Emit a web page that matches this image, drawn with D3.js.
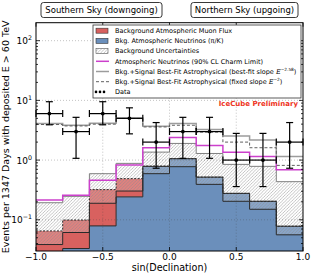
<!DOCTYPE html>
<html lang="en">
<head>
<meta charset="utf-8">
<title>sin(Declination) distribution</title>
<script src="https://cdn.jsdelivr.net/npm/d3@7"></script>
<style>
  body { margin: 0; background: #fff; }
  text { font-family: "DejaVu Sans", sans-serif; }
</style>
</head>
<body>
<div id="main"></div>
<script>
// bin edges in sin(declination)
var edges = [-1, -0.8, -0.6, -0.4, -0.2, 0, 0.2, 0.4, 0.6, 0.8, 1];

// background histograms (events per bin)
var atmNu   = [0.018, 0.033, 0.079, 0.242, 0.785, 1.055, 0.518, 0.277, 0.204, 0.078];
var muons   = [0.047, 0.066, 0.241, 0.247, 0.009, 0, 0, 0, 0, 0];
var bandLow = [0.0385, 0.0612, 0.189, 0.303, 0.592, 0.775, 0.392, 0.204, 0.150, 0.056];
var bandHigh= [0.193, 0.247, 0.592, 0.881, 1.36, 1.90, 1.29, 0.847, 0.785, 0.435];

// model curves
var charm    = [0.214, 0.257, 0.458, 0.831, 1.61, 2.40, 1.76, 1.35, 1.15, 0.686];
var bestFit  = [4.10, 3.85, 4.14, 5.08, 3.70, 4.10, 3.26, 2.52, 2.16, 1.15];
var fixedE2  = [3.94, 3.73, 3.99, 4.98, 3.59, 3.83, 2.94, 2.00, 1.61, 0.815];

// data
var counts  = [6, 3, 6, 5, 2, 3, 3, 1, 1, 2];
var errLow  = [3.9, 1.07, 3.9, 2.75, 0.73, 1.07, 1.07, 0.36, 0.36, 0.73];
var errHigh = [9.5, 5.2, 9.5, 7.5, 4.25, 5.2, 5.2, 2.8, 2.8, 4.25];

var xTicks = [-1, -0.5, 0, 0.5, 1];
var xTickLabels = ["\u22121.0", "\u22120.5", "0.0", "0.5", "1.0"];
var yTicks = [0.1, 1, 10, 100];
var yTickExp = ["\u22121", "0", "1", "2"];

var w = 312, h = 277;
var pL = 36, pR = 303, pT = 22.7, pB = 251;

var red = "#d8615f", blue = "#6b8fbb", magenta = "#cc40cc";

var svg = d3.select("#main").append("svg")
  .attr("width", w).attr("height", h);

var x = d3.scaleLinear().domain([-1, 1]).range([pL, pR]);
var y = d3.scaleLog().domain([0.03, 200]).range([pB, pT]);

var defs = svg.append("defs");
defs.append("clipPath").attr("id", "plot")
  .append("rect").attr("x", pL).attr("y", pT)
  .attr("width", pR - pL).attr("height", pB - pT);

var hatch = defs.append("pattern").attr("id", "hatch")
  .attr("patternUnits", "userSpaceOnUse").attr("width", 3.2).attr("height", 3.2);
hatch.append("rect").attr("width", 3.2).attr("height", 3.2)
  .attr("fill", "#fff").attr("fill-opacity", 0.2);
hatch.append("path")
  .attr("d", "M0,3.2 L3.2,0 M-1,1 L1,-1 M2.2,4.2 L4.2,2.2")
  .attr("stroke", "#8c8c8c").attr("stroke-opacity", 0.85).attr("stroke-width", 0.6);

// step helpers
function pts(vals) {
  return edges.map(function(e, i) { return {e: e, v: vals[Math.min(i, vals.length - 1)], i: Math.min(i, vals.length - 1)}; });
}
var stepLine = d3.line().curve(d3.curveStepAfter)
  .x(function(d) { return x(d.e); })
  .y(function(d) { return y(Math.max(d.v, 1e-3)); });

function stepArea(lo, hi) {
  return d3.area().curve(d3.curveStepAfter)
    .x(function(d) { return x(d.e); })
    .y0(function(d) { return lo(d.i); })
    .y1(function(d) { return hi(d.i); });
}

var plot = svg.append("g").attr("clip-path", "url(#plot)");
var stackTop = atmNu.map(function(v, i) { return v + muons[i]; });

// blue: conventional atmospheric neutrinos
plot.append("path").datum(pts(atmNu))
  .attr("d", stepArea(function() { return pB + 5; }, function(i) { return y(atmNu[i]); }))
  .attr("fill", blue);
// red: atmospheric muons stacked on top
plot.append("path").datum(pts(atmNu))
  .attr("d", stepArea(function(i) { return y(atmNu[i]); }, function(i) { return y(stackTop[i]); }))
  .attr("fill", red);
// uncertainty band
plot.append("path").datum(pts(atmNu))
  .attr("d", stepArea(function(i) { return y(bandLow[i]); }, function(i) { return y(bandHigh[i]); }))
  .attr("fill", "url(#hatch)");

plot.append("path").datum(pts(atmNu)).attr("d", stepLine)
  .attr("fill", "none").attr("stroke", "#2a2a2a").attr("stroke-width", 1);
plot.append("path").datum(pts(bandLow)).attr("d", stepLine)
  .attr("fill", "none").attr("stroke", "#2a2a2a").attr("stroke-width", 1);
plot.append("path").datum(pts(stackTop)).attr("d", stepLine)
  .attr("fill", "none").attr("stroke", "#2a2a2a").attr("stroke-width", 1)
  .attr("stroke-dasharray", "2,1.5");
plot.append("path").datum(pts(bandHigh)).attr("d", stepLine)
  .attr("fill", "none").attr("stroke", "#808080").attr("stroke-width", 1);

// grid
var grid = svg.append("g").attr("stroke", "#444").attr("stroke-opacity", 0.45)
  .attr("stroke-width", 0.7).attr("stroke-dasharray", "1,2");
grid.selectAll(".gx").data([-0.5, 0, 0.5]).enter().append("line")
  .attr("x1", function(d) { return x(d); }).attr("x2", function(d) { return x(d); })
  .attr("y1", pT).attr("y2", pB);
grid.selectAll(".gy").data(yTicks).enter().append("line")
  .attr("x1", pL).attr("x2", pR)
  .attr("y1", function(d) { return y(d); }).attr("y2", function(d) { return y(d); });

// model lines
plot.append("path").datum(pts(charm)).attr("d", stepLine)
  .attr("fill", "none").attr("stroke", magenta).attr("stroke-width", 1.5);
plot.append("path").datum(pts(bestFit)).attr("d", stepLine)
  .attr("fill", "none").attr("stroke", "#9c9c9c").attr("stroke-width", 1.5);
plot.append("path").datum(pts(fixedE2)).attr("d", stepLine)
  .attr("fill", "none").attr("stroke", "#606060").attr("stroke-width", 1)
  .attr("stroke-dasharray", "3,2");

// data points with error bars
var pts0 = counts.map(function(c, i) {
  return {x0: edges[i], x1: edges[i + 1], xc: (edges[i] + edges[i + 1]) / 2, c: c, lo: errLow[i], hi: errHigh[i]};
});
var dg = svg.append("g").attr("stroke", "#000").attr("stroke-width", 1.2);
var cap = 3.5;
pts0.forEach(function(d) {
  var cx = x(d.xc), cy = y(d.c);
  dg.append("line").attr("x1", x(d.x0)).attr("x2", x(d.x1)).attr("y1", cy).attr("y2", cy);
  dg.append("line").attr("x1", x(d.x0)).attr("x2", x(d.x0)).attr("y1", cy - cap).attr("y2", cy + cap);
  dg.append("line").attr("x1", x(d.x1)).attr("x2", x(d.x1)).attr("y1", cy - cap).attr("y2", cy + cap);
  dg.append("line").attr("x1", cx).attr("x2", cx).attr("y1", y(d.lo)).attr("y2", y(d.hi));
  dg.append("line").attr("x1", cx - cap).attr("x2", cx + cap).attr("y1", y(d.lo)).attr("y2", y(d.lo));
  dg.append("line").attr("x1", cx - cap).attr("x2", cx + cap).attr("y1", y(d.hi)).attr("y2", y(d.hi));
  svg.append("circle").attr("cx", cx).attr("cy", cy).attr("r", 1.9).attr("fill", "#000");
});

// frame and ticks
svg.append("rect").attr("x", pL).attr("y", pT).attr("width", pR - pL).attr("height", pB - pT)
  .attr("fill", "none").attr("stroke", "#000").attr("stroke-width", 1);

var ticks = svg.append("g").attr("stroke", "#000").attr("stroke-width", 0.8);
xTicks.forEach(function(t) {
  ticks.append("line").attr("x1", x(t)).attr("x2", x(t)).attr("y1", pB).attr("y2", pB - 4);
  ticks.append("line").attr("x1", x(t)).attr("x2", x(t)).attr("y1", pT).attr("y2", pT + 4);
});
var minor = [];
[0.01, 0.1, 1, 10, 100].forEach(function(dec) {
  for (var k = 2; k <= 9; k++) {
    var v = dec * k;
    if (v > 0.03 && v < 200) minor.push(v);
  }
});
minor.forEach(function(v) {
  ticks.append("line").attr("x1", pL).attr("x2", pL + 2).attr("y1", y(v)).attr("y2", y(v));
  ticks.append("line").attr("x1", pR).attr("x2", pR - 2).attr("y1", y(v)).attr("y2", y(v));
});
yTicks.forEach(function(v) {
  ticks.append("line").attr("x1", pL).attr("x2", pL + 4).attr("y1", y(v)).attr("y2", y(v));
  ticks.append("line").attr("x1", pR).attr("x2", pR - 4).attr("y1", y(v)).attr("y2", y(v));
});

// tick labels
svg.selectAll(".xl").data(xTicks).enter().append("text")
  .attr("x", function(d) { return x(d); }).attr("y", 260)
  .attr("text-anchor", "middle").attr("font-size", 9)
  .text(function(d, i) { return xTickLabels[i]; });

yTicks.forEach(function(v, i) {
  var t = svg.append("text").attr("x", 32).attr("y", y(v) + 3.5)
    .attr("text-anchor", "end").attr("font-size", 9);
  t.append("tspan").text("10");
  t.append("tspan").attr("dy", -4).attr("font-size", 6.3).text(yTickExp[i]);
});

svg.append("text").attr("x", (pL + pR) / 2).attr("y", 270.5)
  .attr("text-anchor", "middle").attr("font-size", 9.6).text("sin(Declination)");
svg.append("text").attr("transform", "translate(9," + ((pT + pB) / 2) + ") rotate(-90)")
  .attr("text-anchor", "middle").attr("font-size", 9.5)
  .text("Events per 1347 Days with deposited E > 60 TeV");

// sky boxes
function skyBox(x0, x1, label) {
  svg.append("rect").attr("x", x0).attr("y", 2.5).attr("width", x1 - x0).attr("height", 15)
    .attr("rx", 2.5).attr("fill", "#fff").attr("stroke", "#222").attr("stroke-width", 0.9);
  svg.append("text").attr("x", (x0 + x1) / 2).attr("y", 13.2).attr("text-anchor", "middle")
    .attr("font-size", 8.5).text(label);
}
skyBox(41, 162, "Southern Sky (downgoing)");
skyBox(191, 298, "Northern Sky (upgoing)");

svg.append("text").attr("x", 298).attr("y", 106).attr("text-anchor", "end")
  .attr("font-size", 7).attr("font-weight", "bold").attr("fill", "#ee3322")
  .text("IceCube Preliminary");

// legend
var lg = svg.append("g");
lg.append("rect").attr("x", 93).attr("y", 25).attr("width", 208).attr("height", 73)
  .attr("fill", "#fff").attr("stroke", "#333").attr("stroke-width", 0.8);
var rowY = function(i) { return 30.7 + 10.2 * i; };
var hx0 = 96, hx1 = 108;
lg.append("rect").attr("x", hx0).attr("y", rowY(0) - 2.5).attr("width", hx1 - hx0).attr("height", 5)
  .attr("fill", red).attr("stroke", "#333").attr("stroke-width", 0.6);
lg.append("rect").attr("x", hx0).attr("y", rowY(1) - 2.5).attr("width", hx1 - hx0).attr("height", 5)
  .attr("fill", blue).attr("stroke", "#333").attr("stroke-width", 0.6);
lg.append("rect").attr("x", hx0).attr("y", rowY(2) - 2.5).attr("width", hx1 - hx0).attr("height", 5)
  .attr("fill", "url(#hatch)").attr("stroke", "#555").attr("stroke-width", 0.6);
lg.append("line").attr("x1", hx0).attr("x2", hx1 + 1).attr("y1", rowY(3)).attr("y2", rowY(3))
  .attr("stroke", magenta).attr("stroke-width", 1.5);
lg.append("line").attr("x1", hx0).attr("x2", hx1 + 1).attr("y1", rowY(4)).attr("y2", rowY(4))
  .attr("stroke", "#9c9c9c").attr("stroke-width", 1.5);
lg.append("line").attr("x1", hx0).attr("x2", hx1 + 1).attr("y1", rowY(5)).attr("y2", rowY(5))
  .attr("stroke", "#606060").attr("stroke-width", 1).attr("stroke-dasharray", "3,2");
[96, 100, 104].forEach(function(cx) {
  lg.append("circle").attr("cx", cx).attr("cy", rowY(6)).attr("r", 1.3).attr("fill", "#000");
});

var labels = [
  ["Background Atmospheric Muon Flux"],
  ["Bkg. Atmospheric Neutrinos (\u03c0/K)"],
  ["Background Uncertainties"],
  ["Atmospheric Neutrinos (90% CL Charm Limit)"],
  ["Bkg.+Signal Best-Fit Astrophysical (best-fit slope ", "\u22122.58", ")"],
  ["Bkg.+Signal Best-Fit Astrophysical (fixed slope ", "\u22122", ")"],
  ["Data"]
];
labels.forEach(function(l, i) {
  var t = lg.append("text").attr("x", 115).attr("y", rowY(i) + 2.3).attr("font-size", 6.5);
  t.append("tspan").text(l[0]);
  if (l.length > 1) {
    t.append("tspan").attr("font-family", "DejaVu Serif").attr("font-style", "italic").text("E");
    t.append("tspan").attr("dy", -2.8).attr("font-size", 4.3).text(l[1]);
    t.append("tspan").attr("dy", 2.8).text(l[2]);
  }
});
</script>
</body>
</html>
